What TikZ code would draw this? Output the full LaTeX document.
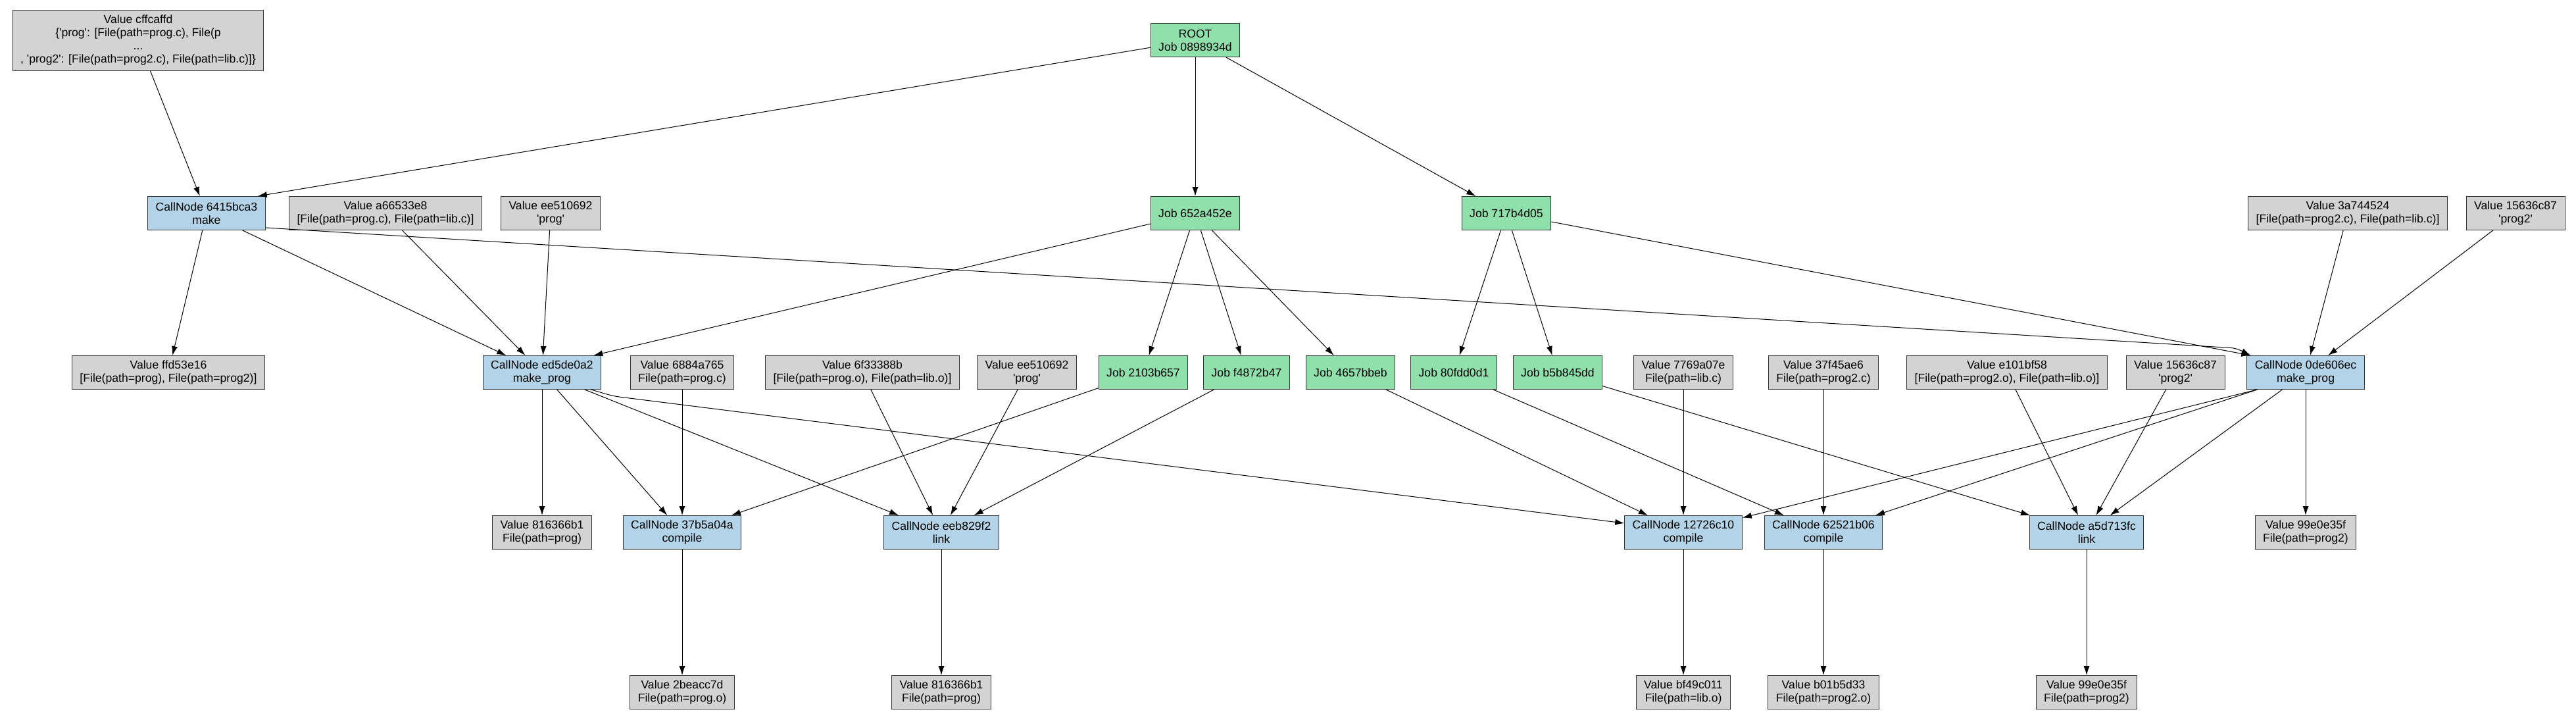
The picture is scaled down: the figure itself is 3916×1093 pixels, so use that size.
\documentclass[tikz,border=0pt]{standalone}
\usepackage{fontspec}
\setmainfont{Liberation Sans}[Ligatures=TeXOff]
\usepackage{xcolor}
\usepackage{tikz}
\usetikzlibrary{arrows.meta}
\definecolor{valgray}{HTML}{D3D3D3}
\definecolor{jobgreen}{HTML}{8FE0AB}
\definecolor{callblue}{HTML}{B3D4E8}

\begin{document}
\begin{tikzpicture}[x=0.5pt, y=-0.5pt,
  box/.style={rectangle, draw=black!80, line width=0.5pt, align=center, inner xsep=6pt, inner ysep=3pt, minimum height=25.5pt, font=\fontsize{8.8}{10}\selectfont},
  valbox/.style={box, fill=valgray},
  jobbox/.style={box, fill=jobgreen},
  callbox/.style={box, fill=callblue},
  dep/.style={-{Latex[length=7pt, width=4.6pt]}, draw=black, line width=0.5pt}]
\useasboundingbox (0,0) rectangle (3916,1093);
\node [valbox, minimum height=46pt] (vcffc) at (210, 61) {Value cffcaffd\\\{'prog': {[}File(path=prog.c), File(p\\...\\, 'prog2': {[}File(path=prog2.c), File(path=lib.c)]\}};
\node [jobbox] (root) at (1817, 61) {ROOT\\Job 0898934d};
\node [callbox] (cn6415) at (314, 324) {CallNode 6415bca3\\make};
\node [valbox] (va665) at (586, 324) {Value a66533e8\\{[}File(path=prog.c), File(path=lib.c)]};
\node [valbox] (vee51) at (837, 324) {Value ee510692\\'prog'};
\node [jobbox] (j652) at (1817, 324) {Job 652a452e};
\node [jobbox] (j717) at (2290, 324) {Job 717b4d05};
\node [valbox] (v3a74) at (3569, 324) {Value 3a744524\\{[}File(path=prog2.c), File(path=lib.c)]};
\node [valbox] (v1563) at (3824, 324) {Value 15636c87\\'prog2'};
\node [valbox] (vffd5) at (256, 566) {Value ffd53e16\\{[}File(path=prog), File(path=prog2)]};
\node [callbox] (cned5) at (824, 566) {CallNode ed5de0a2\\make\_prog};
\node [valbox] (v6884) at (1037, 566) {Value 6884a765\\File(path=prog.c)};
\node [valbox] (v6f33) at (1311, 566) {Value 6f33388b\\{[}File(path=prog.o), File(path=lib.o)]};
\node [valbox] (vee51b) at (1561, 566) {Value ee510692\\'prog'};
\node [jobbox] (j2103) at (1738, 566) {Job 2103b657};
\node [jobbox] (jf487) at (1895, 566) {Job f4872b47};
\node [jobbox] (j4657) at (2053, 566) {Job 4657bbeb};
\node [jobbox] (j80fd) at (2210, 566) {Job 80fdd0d1};
\node [jobbox] (jb5b8) at (2368, 566) {Job b5b845dd};
\node [valbox] (v7769) at (2559, 566) {Value 7769a07e\\File(path=lib.c)};
\node [valbox] (v37f4) at (2772, 566) {Value 37f45ae6\\File(path=prog2.c)};
\node [valbox] (ve101) at (3051, 566) {Value e101bf58\\{[}File(path=prog2.o), File(path=lib.o)]};
\node [valbox] (v1563b) at (3307, 566) {Value 15636c87\\'prog2'};
\node [callbox] (cn0de6) at (3505, 566) {CallNode 0de606ec\\make\_prog};
\node [valbox] (v8163) at (824, 809) {Value 816366b1\\File(path=prog)};
\node [callbox] (cn37b5) at (1037, 809) {CallNode 37b5a04a\\compile};
\node [callbox] (cneeb8) at (1431, 809) {CallNode eeb829f2\\link};
\node [callbox] (cn1272) at (2559, 809) {CallNode 12726c10\\compile};
\node [callbox] (cn6252) at (2772, 809) {CallNode 62521b06\\compile};
\node [callbox] (cna5d7) at (3172, 809) {CallNode a5d713fc\\link};
\node [valbox] (v99e0) at (3505, 809) {Value 99e0e35f\\File(path=prog2)};
\node [valbox] (v2bea) at (1037, 1052) {Value 2beacc7d\\File(path=prog.o)};
\node [valbox] (v8163b) at (1431, 1052) {Value 816366b1\\File(path=prog)};
\node [valbox] (vbf49) at (2559, 1052) {Value bf49c011\\File(path=lib.o)};
\node [valbox] (vb01b) at (2772, 1052) {Value b01b5d33\\File(path=prog2.o)};
\node [valbox] (v99e0b) at (3172, 1052) {Value 99e0e35f\\File(path=prog2)};
\draw [dep] (root) to ([xshift=-6pt]cn6415.north east);
\draw [dep] (root) to (j652);
\draw [dep] (root) to (j717);
\draw [dep] (vcffc) to (cn6415);
\draw [dep] (cn6415) to (vffd5);
\draw [dep] (cn6415) to (cned5);
\draw [dep, rounded corners=4pt] ([yshift=2pt]cn6415.south east) -- ([shift={(-16,-11)}]cn0de6.north west) -- ([xshift=3pt]cn0de6.north west);
\draw [dep] (va665) to (cned5);
\draw [dep] (vee51) to (cned5);
\draw [dep] (j652) to ([xshift=-6pt]cned5.north east);
\draw [dep] (j652) to (j2103);
\draw [dep] (j652) to (jf487);
\draw [dep] (j652) to (j4657);
\draw [dep] (j717) to (j80fd);
\draw [dep] (j717) to (jb5b8);
\draw [dep] (j717) to ([xshift=3pt]cn0de6.north west);
\draw [dep] (v3a74) to (cn0de6);
\draw [dep] (v1563) to (cn0de6);
\draw [dep] (cned5) to (v8163);
\draw [dep] (cned5) to (cn37b5);
\draw [dep] (cned5) to (cneeb8);
\draw [dep, rounded corners=4pt] ([xshift=-8pt]cned5.south east) -- ++(35,10) -- ([yshift=7pt]cn1272.west);
\draw [dep] (v6884) to (cn37b5);
\draw [dep] (j2103) to (cn37b5);
\draw [dep] (v6f33) to (cneeb8);
\draw [dep] (vee51b) to (cneeb8);
\draw [dep] (jf487) to (cneeb8);
\draw [dep] (j4657) to (cn1272);
\draw [dep] (v7769) to (cn1272);
\draw [dep] ([xshift=8pt]cn0de6.south west) to (cn1272);
\draw [dep] (j80fd) to (cn6252);
\draw [dep] (v37f4) to (cn6252);
\draw [dep] ([xshift=8pt]cn0de6.south west) to (cn6252);
\draw [dep] (jb5b8) to (cna5d7);
\draw [dep] (ve101) to (cna5d7);
\draw [dep] (v1563b) to (cna5d7);
\draw [dep] (cn0de6) to (cna5d7);
\draw [dep] (cn0de6) to (v99e0);
\draw [dep] (cn37b5) to (v2bea);
\draw [dep] (cneeb8) to (v8163b);
\draw [dep] (cn1272) to (vbf49);
\draw [dep] (cn6252) to (vb01b);
\draw [dep] (cna5d7) to (v99e0b);
\end{tikzpicture}
\end{document}
